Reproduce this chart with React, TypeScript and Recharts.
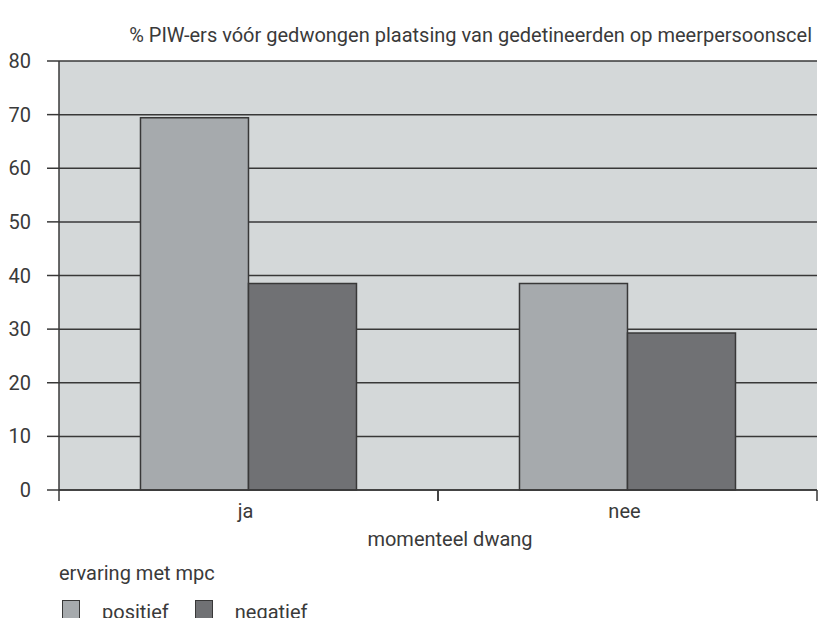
import { BarChart, Bar, XAxis, YAxis, CartesianGrid, Legend } from "recharts";

// Gegevens.
const CATEGORIES = ["ja", "nee"];
const POSITIEF = [69.4, 38.5];
const NEGATIEF = [38.5, 29.3];
const Y_TICKS = [0, 10, 20, 30, 40, 50, 60, 70, 80];

const TITLE = "% PIW-ers vóór gedwongen plaatsing van gedetineerden op meerpersoonscel";
const X_LABEL = "momenteel dwang";
const LEGEND_TITLE = "ervaring met mpc";

const FONT = "Roboto, 'Noto Sans', sans-serif";
const FS = 20;
const TEXT = "#3a3a3a";
const LINE = "#383838";
const PLOT_BG = "#d4d8d9";
const C_POS = "#a6aaad";
const C_NEG = "#707174";

const data = CATEGORIES.map((c, i) => ({
  cat: c,
  positief: POSITIEF[i],
  negatief: NEGATIEF[i],
}));

// Categorie-label met streepjes op de grenzen tussen categorieën.
function CatTick(props: any) {
  const { x, y, payload } = props;
  const off = payload?.offset ?? 0;
  return (
    <g>
      <line x1={x - off} y1={y} x2={x - off} y2={y + 11} stroke={LINE} strokeWidth={1.5} />
      <line x1={x + off} y1={y} x2={x + off} y2={y + 11} stroke={LINE} strokeWidth={1.5} />
      <text x={x - 3} y={y + 28} textAnchor="middle" fontSize={FS} fontFamily={FONT} fill={TEXT}>
        {payload.value}
      </text>
    </g>
  );
}

function LegendBox() {
  const items = [
    { name: "positief", color: C_POS },
    { name: "negatief", color: C_NEG },
  ];
  return (
    <div style={{ fontFamily: FONT, fontSize: FS, color: TEXT }}>
      <div style={{ height: 24, lineHeight: "24px" }}>{LEGEND_TITLE}</div>
      <div style={{ display: "flex", marginTop: 15 }}>
        {items.map((it) => (
          <div key={it.name} style={{ display: "flex", alignItems: "flex-start", marginRight: 23 }}>
            <div
              style={{
                width: 16,
                height: 20,
                background: it.color,
                border: `1.5px solid ${LINE}`,
                marginLeft: 3,
                marginRight: 22,
              }}
            />
            <span style={{ lineHeight: "20px", marginTop: 2 }}>{it.name}</span>
          </div>
        ))}
      </div>
    </div>
  );
}

export default function App() {
  return (
    <div style={{ position: "absolute", left: 0, top: 0, width: 819, height: 618, background: "#fff", overflow: "hidden" }}>
      <div
        style={{
          position: "absolute",
          right: 7,
          top: 23,
          fontFamily: FONT,
          fontSize: FS,
          lineHeight: "24px",
          color: TEXT,
          whiteSpace: "nowrap",
        }}
      >
        {TITLE}
      </div>
      <BarChart
        width={819}
        height={618}
        data={data}
        margin={{ top: 61, right: 2, left: 0, bottom: 11 }}
        barCategoryGap="21.5%"
        barGap={0}
      >
        <CartesianGrid
          horizontal
          vertical={false}
          stroke={LINE}
          strokeWidth={1.5}
          fill={PLOT_BG}
          fillOpacity={1}
        />
        <XAxis
          dataKey="cat"
          axisLine={{ stroke: LINE, strokeWidth: 1.5 }}
          tickLine={false}
          tickSize={0}
          tickMargin={0}
          height={56}
          tick={<CatTick />}
          interval={0}
          label={{
            value: X_LABEL,
            position: "insideBottom",
            offset: 0,
            dx: 12,
            fontSize: FS,
            fontFamily: FONT,
            fill: TEXT,
          }}
        />
        <YAxis
          domain={[0, 80]}
          ticks={Y_TICKS}
          width={59}
          axisLine={{ stroke: LINE, strokeWidth: 1.5 }}
          tickLine={{ stroke: LINE, strokeWidth: 1.5 }}
          tickSize={12}
          tickMargin={16}
          tick={{ fontSize: FS, fontFamily: FONT, fill: TEXT }}
        />
        <Legend
          content={<LegendBox />}
          wrapperStyle={{ position: "absolute", left: 59, top: 561, width: 400 }}
        />
        <Bar dataKey="positief" fill={C_POS} stroke={LINE} strokeWidth={1.5} isAnimationActive={false} />
        <Bar dataKey="negatief" fill={C_NEG} stroke={LINE} strokeWidth={1.5} isAnimationActive={false} />
      </BarChart>
    </div>
  );
}
